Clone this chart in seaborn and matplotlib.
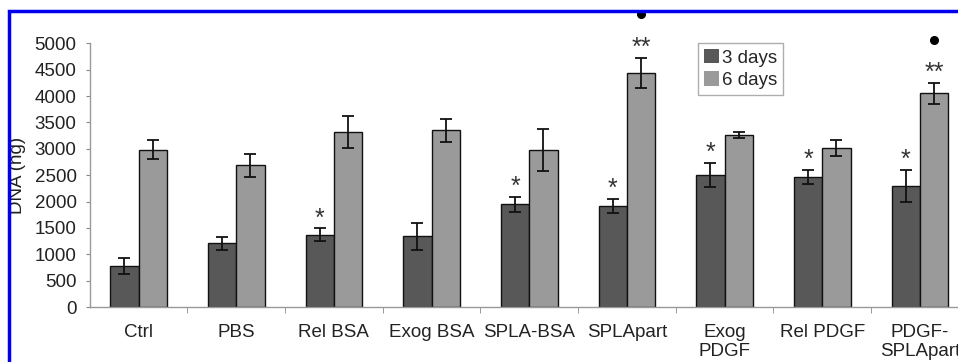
import seaborn as sns
import matplotlib.pyplot as plt
import matplotlib.patches as mpatches
from matplotlib.transforms import offset_copy
import pandas as pd
import numpy as np

# --- data ---
groups = ["Ctrl", "PBS", "Rel BSA", "Exog BSA", "SPLA-BSA", "SPLApart",
          "Exog\nPDGF", "Rel PDGF", "PDGF-\nSPLApart"]
days3 = [780, 1210, 1370, 1340, 1950, 1920, 2500, 2470, 2300]
days3_err = [150, 120, 125, 250, 140, 135, 230, 130, 300]
days6 = [2980, 2690, 3320, 3350, 2970, 4440, 3260, 3020, 4050]
days6_err = [180, 220, 300, 220, 400, 290, 60, 150, 200]
marks3 = ["", "", "*", "", "*", "*", "*", "*", "*"]
marks6 = ["", "", "", "", "", "**", "", "", "**"]
dots6 = [False, False, False, False, False, True, False, False, True]

df = pd.DataFrame({
    "Group": groups * 2,
    "DNA": days3 + days6,
    "err": days3_err + days6_err,
    "Time": ["3 days"] * len(groups) + ["6 days"] * len(groups),
})

sns.set_style("white")
plt.rcParams["font.family"] = ["Liberation Sans", "DejaVu Sans"]

fig = plt.figure(figsize=(9.58, 3.62), dpi=100)
ax = fig.add_axes([89.7 / 958, 1 - 307 / 362, 879 / 958, 263.7 / 362])

palette = {"3 days": "#585858", "6 days": "#9a9a9a"}
sns.barplot(data=df, x="Group", y="DNA", hue="Time", palette=palette,
            errorbar=None, width=0.58, edgecolor="#111111", linewidth=1.0,
            saturation=1, ax=ax)

# error bars and significance marks, placed on the drawn bars
bars = [p for p in ax.patches if p.get_height() > 0][:2 * len(groups)]
errs = days3_err + days6_err
labels = marks3 + marks6
dots = [False] * len(groups) + dots6
dot_tr = offset_copy(ax.transData, fig=fig, y=31, units="points")
for bar, e, lab, dot in zip(bars, errs, labels, dots):
    cx = bar.get_x() + bar.get_width() / 2
    h = bar.get_height()
    ax.errorbar(cx, h, yerr=e, color="#111111", capsize=4.3, elinewidth=1.3,
                capthick=1.3, fmt="none")
    if lab:
        ax.annotate(lab, (cx, h + e), xytext=(0, 2), textcoords="offset points",
                    ha="center", va="baseline", fontsize=18, color="#333333",
                    annotation_clip=False)
    if dot:
        ax.plot(cx, h + e, "o", color="black", ms=5.5, transform=dot_tr,
                clip_on=False)

ax.set_ylim(0, 5000)
ax.set_xlim(-0.5, len(groups) - 0.5)
ax.set_yticks(np.arange(0, 5001, 500))
ax.tick_params(axis="y", labelsize=13.5, length=3, color="#888888",
               left=True, pad=6.5, labelcolor="#222222")
ax.tick_params(axis="x", labelsize=13.5, length=0, pad=12.5,
               labelcolor="#222222")
for t in ax.get_xticklabels():
    t.set_linespacing(1.15)
ax.set_xticks(np.arange(0.5, len(groups) - 0.5), minor=True)
ax.tick_params(axis="x", which="minor", length=4, color="#888888",
               bottom=True)
ax.set_xlabel("")
ax.set_ylabel("DNA (ng)", fontsize=13.5, color="#222222")
ax.yaxis.set_label_coords(-0.073, 0.5)
for s in ["top", "right"]:
    ax.spines[s].set_visible(False)
for s in ["left", "bottom"]:
    ax.spines[s].set_color("#999999")
    ax.spines[s].set_linewidth(1.0)

leg = ax.legend(loc="upper left", bbox_to_anchor=(0.692, 1.0),
                fontsize=13.5, frameon=True, fancybox=False,
                handlelength=0.8, handleheight=0.8, handletextpad=0.2,
                borderpad=0.3, labelspacing=0.25, borderaxespad=0)
leg.get_frame().set_edgecolor("#999999")
leg.get_frame().set_linewidth(1.0)
for h in leg.legend_handles:
    h.set_edgecolor("none")

# blue frame around the figure panel
fig.add_artist(mpatches.Rectangle((9 / 958, -0.1), 1.2, 1 - 11 / 362 + 0.1,
                                  transform=fig.transFigure, fill=False,
                                  edgecolor="#0000ee", linewidth=2.5))

fig.savefig("out.png", dpi=100)
